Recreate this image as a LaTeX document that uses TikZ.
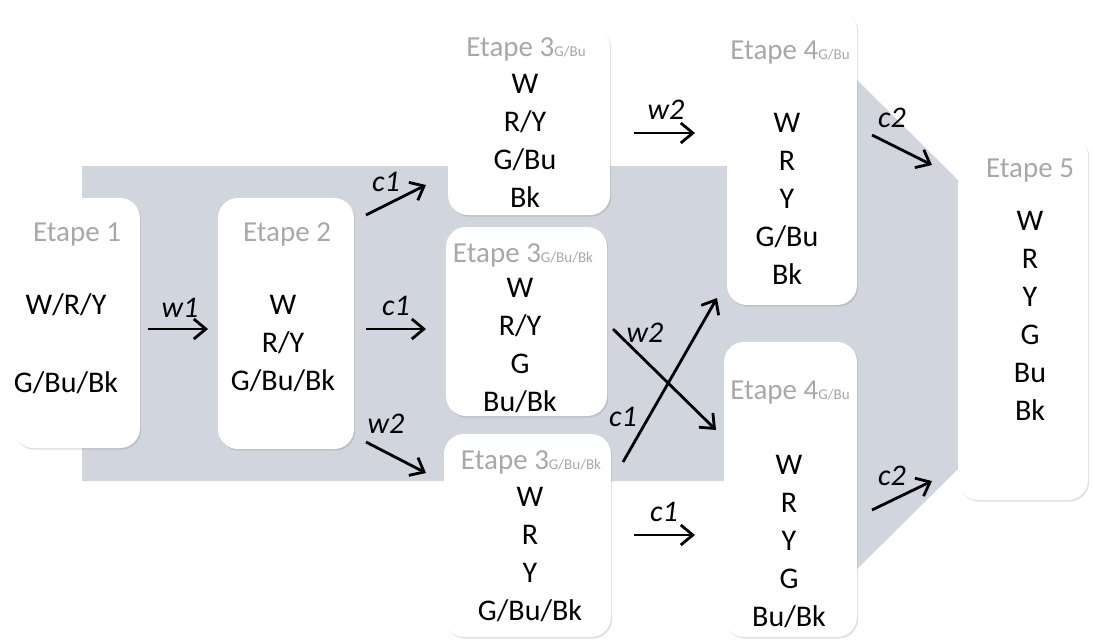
\documentclass[tikz,border=0pt]{standalone}
\usepackage{fontspec}
\setmainfont{Carlito}
\usepackage{tikz}
\usetikzlibrary{arrows.meta}
\usetikzlibrary{shadows}

\definecolor{bandgray}{RGB}{208,213,222}
\definecolor{titlegray}{RGB}{168,168,168}
\newcommand{\stagesub}[1]{{\fontsize{7.5}{8}\selectfont #1}}

\tikzset{
    stage/.style={fill=white, rounded corners=10pt,
        drop shadow={shadow xshift=0.6pt, shadow yshift=-0.8pt, opacity=0.25}},
    stagetitle/.style={text=titlegray, font=\fontsize{14.5}{17}\selectfont, inner sep=0pt},
    stagebody/.style={align=center, font=\fontsize{15}{19}\selectfont, inner sep=0pt},
    move/.style={line width=1.4pt, -{Straight Barb[length=6pt, width=10pt]}},
    movelabel/.style={font=\fontsize{15}{17}\selectfont\itshape, inner sep=0pt},
}

\begin{document}
\begin{tikzpicture}[x=0.5pt, y=-0.5pt]
    \useasboundingbox (0,0) rectangle (1093,639);
    % band behind the stages
    \fill[bandgray] (82,166) -- (800,166) -- (800,23) -- (857,80) -- (958,180)
        -- (1080,324) -- (958,469) -- (857,569) -- (800,626) -- (800,481)
        -- (82,481) -- cycle;

    % stages
    \node[stage, minimum width=63.5pt, minimum height=125pt] (e1) at (76.5,323) {};
    \node[stage, minimum width=68pt, minimum height=125.5pt] (e2) at (286,323.5) {};
    \node[stage, minimum width=81pt, minimum height=94.5pt] (e3a) at (529,120.5) {};
    \node[stage, minimum width=80.5pt, minimum height=94.5pt] (e3b) at (526.5,321.5) {};
    \node[stage, minimum width=83.5pt, minimum height=101.5pt] (e3c) at (527.5,535.5) {};
    \node[stage, minimum width=65pt, minimum height=147.5pt] (e4a) at (792,157.5) {};
    \node[stage, minimum width=66.5pt, minimum height=147.5pt] (e4b) at (790.5,489.5) {};
    \node[stage, minimum width=65pt, minimum height=182.5pt] (e5) at (1023,317.5) {};

    \node[stagetitle] (t1) at (77,234) {Etape 1};
    \node[stagetitle] (t2) at (287,234) {Etape 2};
    \node[stagetitle] (t3a) at (526,49) {Etape 3\stagesub{G/Bu}};
    \node[stagetitle] (t3b) at (523,255) {Etape 3\stagesub{G/Bu/Bk}};
    \node[stagetitle] (t3c) at (531,462) {Etape 3\stagesub{G/Bu/Bk}};
    \node[stagetitle] (t4a) at (790,53) {Etape 4\stagesub{G/Bu}};
    \node[stagetitle] (t4b) at (790,393) {Etape 4\stagesub{G/Bu}};
    \node[stagetitle] (t5) at (1030,171) {Etape 5};

    \node[stagebody] (b1) at (66,344) {W/R/Y\\[20pt]G/Bu/Bk};
    \node[stagebody] (b2) at (283,343.5) {W\\R/Y\\G/Bu/Bk};
    \node[stagebody] (b3a) at (525,140.5) {W\\R/Y\\G/Bu\\Bk};
    \node[stagebody] (b3b) at (520,346) {W\\R/Y\\G\\Bu/Bk};
    \node[stagebody] (b3c) at (530,554) {W\\R\\Y\\G/Bu/Bk};
    \node[stagebody] (b4a) at (787,199) {W\\R\\Y\\G/Bu\\Bk};
    \node[stagebody] (b4b) at (789,541) {W\\R\\Y\\G\\Bu/Bk};
    \node[stagebody] (b5) at (1030,316) {W\\R\\Y\\G\\Bu\\Bk};

    % moves between stages
    \coordinate (w1s) at (148,329);   \coordinate (w1e) at (208,329);
    \coordinate (c1as) at (366,215);  \coordinate (c1ae) at (426,185);
    \coordinate (c1bs) at (366,329);  \coordinate (c1be) at (426,329);
    \coordinate (w2as) at (366,442);  \coordinate (w2ae) at (426,473);
    \coordinate (w2bs) at (634,133);  \coordinate (w2be) at (695,133);
    \coordinate (w2cs) at (613,329);  \coordinate (w2ce) at (716,430);
    \coordinate (c1cs) at (623,462);  \coordinate (c1ce) at (717,298);
    \coordinate (c1ds) at (634,535);  \coordinate (c1de) at (695,535);
    \coordinate (c2as) at (872,135);  \coordinate (c2ae) at (932,165);
    \coordinate (c2bs) at (872,510);  \coordinate (c2be) at (932,481);

    \draw[move] (w1s) -- (w1e);
    \draw[move] (c1as) -- (c1ae);
    \draw[move] (c1bs) -- (c1be);
    \draw[move] (w2as) -- (w2ae);
    \draw[move] (w2bs) -- (w2be);
    \draw[move] (w2cs) -- (w2ce);
    \draw[move] (c1cs) -- (c1ce);
    \draw[move] (c1ds) -- (c1de);
    \draw[move] (c2as) -- (c2ae);
    \draw[move] (c2bs) -- (c2be);

    \node[movelabel] (lw1) at (180,308) {w1};
    \node[movelabel] (lc1a) at (386,182) {c1};
    \node[movelabel] (lc1b) at (396,306) {c1};
    \node[movelabel] (lw2a) at (386,424) {w2};
    \node[movelabel] (lw2b) at (666,110) {w2};
    \node[movelabel] (lw2c) at (645,333) {w2};
    \node[movelabel] (lc1c) at (623,417) {c1};
    \node[movelabel] (lc1d) at (664,512) {c1};
    \node[movelabel] (lc2a) at (892,118) {c2};
    \node[movelabel] (lc2b) at (892,476) {c2};
\end{tikzpicture}
\end{document}
